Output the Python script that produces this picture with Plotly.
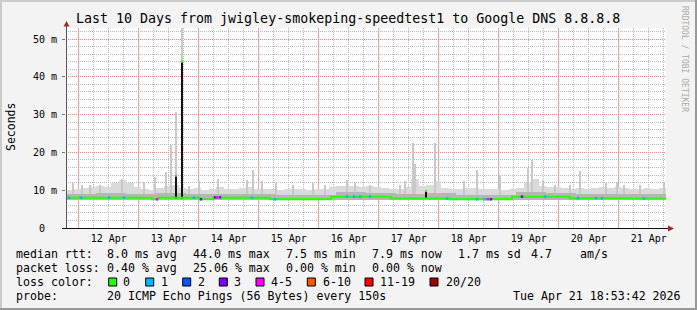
import numpy as np
import pandas as pd
import plotly.graph_objects as go

# ---------------- data ----------------
START = pd.Timestamp("2026-04-11 18:53:42")
END = pd.Timestamp("2026-04-21 18:53:42")

# median RTT (ms) as a step function: breakpoints in hours since START
median_hours = [0, 34.4, 36.8, 53.6, 58.8, 64.4, 81.6, 106.0, 130.0, 153.6, 178.4, 201.6, 225.6, 240]
median_ms = [8.0, 7.6, 8.0, 7.6, 8.1, 8.0, 7.6, 8.3, 7.8, 7.6, 8.3, 7.9, 7.8, 7.8]

# light smoke: upper edge per 3-hour bin (ms)
smoke_bin_hours = 3
smoke_top = [10.0, 10.3, 10.5, 10.8, 11.0, 10.8, 11.8, 12.8, 12.0, 10.8,
             10.3, 10.0, 10.5, 11.0, 11.5, 10.5, 10.3, 10.5, 10.0, 10.3,
             10.8, 10.3, 10.3, 10.5, 10.8, 10.3, 10.2, 10.3, 10.0, 10.3,
             10.2, 10.2, 10.0, 10.3, 10.2, 10.8, 11.0, 11.2, 11.0, 10.8,
             11.2, 10.8, 10.5, 10.2, 10.3, 10.8, 13.0, 11.0, 11.5, 12.5,
             10.5, 10.2, 10.3, 10.5, 10.5, 10.3, 10.2, 10.3, 10.0, 10.3,
             10.5, 12.0, 13.0, 11.0, 10.8, 10.8, 10.5, 10.3, 10.5, 10.3,
             10.5, 10.8, 10.5, 10.8, 10.5, 10.3, 10.2, 10.5, 10.3, 10.5]
smoke_floor = 7.3

# dense smoke near the median: upper edge per 12-hour bin (ms)
dense_bin_hours = 12
dense_top = [9.0, 9.3, 9.0, 9.2, 8.9, 9.0, 9.0, 8.7, 8.8, 9.4,
             9.3, 9.0, 9.2, 8.7, 8.8, 9.4, 9.2, 9.0, 9.0, 8.9]

# isolated smoke spikes (hours since START, top in ms)
spike_hours = [2.8, 6.4, 9.6, 13.6, 22.4, 31.2, 35.6, 40.0, 42.0, 44.0,
               46.4, 49.2, 53.2, 60.8, 72.4, 74.8, 78.4, 84.0, 90.8, 98.8,
               103.6, 112.4, 115.6, 121.6, 133.6, 135.6, 138.8, 139.6, 147.6, 159.2,
               164.4, 173.6, 184.8, 186.4, 190.8, 195.6, 201.6, 205.6, 216.0, 220.4,
               223.2, 229.6, 239.2]
spike_ms = [12.0, 11.5, 11.3, 11.4, 13.0, 12.2, 13.6, 14.7, 22.0, 30.8,
            53.0, 11.0, 12.4, 12.9, 12.7, 15.4, 12.5, 12.0, 11.5, 12.0,
            11.5, 12.7, 11.8, 11.5, 11.5, 12.4, 22.4, 17.0, 22.6, 12.4,
            15.3, 14.0, 15.8, 18.0, 12.7, 11.4, 11.5, 15.1, 11.8, 12.3,
            11.4, 11.3, 11.8]

# dense (black) smoke columns with median spikes
black_hours = [44.0, 46.4, 144.0]
black_ms = [13.8, 44.0, 9.8]

# samples with packet loss (hours since START)
loss1_hours = [1.2, 6.0, 17.2, 23.2, 51.2, 74.4, 83.6, 112.4, 115.2, 117.6,
               121.6, 152.4, 164.4, 167.6, 191.6, 204.8, 212.0, 214.4, 231.2]
loss3_hours = [54.0, 59.6, 61.6, 170.0, 182.4]
loss45_hours = [36.4, 60.4, 168.8]

day_labels = ["12 Apr", "13 Apr", "14 Apr", "15 Apr", "16 Apr",
              "17 Apr", "18 Apr", "19 Apr", "20 Apr", "21 Apr"]
y_ticks = [0, 10, 20, 30, 40, 50]
y_ticktext = ["0\u00a0\u00a0", "10 m", "20 m", "30 m", "40 m", "50 m"]

loss_names = ["0", "1", "2", "3", "4-5", "6-10", "11-19", "20/20"]
loss_colors = ["#26ff00", "#00b8ff", "#0059ff", "#7e00ff", "#ff00ff", "#ff5500", "#ff0000", "#a10000"]

title = "Last 10 Days from jwigley-smokeping-speedtest1 to Google DNS 8.8.8.8"

# ---------------- helpers ----------------
H = pd.Timedelta(hours=1)
HMS = 3600 * 1000
MONO = "DejaVu Sans Mono"
L, R, T, B = 66, 666, 28, 228
W, HT = 697, 310


def px(x):
    return (x - L) / (R - L)


def py(y):
    return (B - y) / (B - T)


def t(h):
    return [START + v * H for v in h]


def median_at(hours):
    idx = np.searchsorted(median_hours, hours, side="right") - 1
    return [median_ms[i] for i in idx]


fig = go.Figure()

# light smoke bins
sx = [START + (i + 0.5) * smoke_bin_hours * H for i in range(len(smoke_top))]
fig.add_trace(go.Bar(x=sx, y=[v - smoke_floor for v in smoke_top], base=smoke_floor,
                     width=smoke_bin_hours * HMS, marker=dict(color="#dadada", line=dict(width=0)),
                     hoverinfo="skip"))
# spikes
fig.add_trace(go.Bar(x=t(spike_hours), y=[v - smoke_floor for v in spike_ms], base=smoke_floor,
                     width=0.4 * HMS, marker=dict(color="#c8c8c8", line=dict(width=0)),
                     hoverinfo="skip"))
# dense smoke
dx = [START + (i + 0.5) * dense_bin_hours * H for i in range(len(dense_top))]
fig.add_trace(go.Bar(x=dx, y=[v - smoke_floor for v in dense_top], base=smoke_floor,
                     width=dense_bin_hours * HMS, marker=dict(color="#b6b6b6", line=dict(width=0)),
                     hoverinfo="skip"))
# black columns
fig.add_trace(go.Bar(x=t(black_hours), y=[v - 7.8 for v in black_ms], base=7.8,
                     width=0.9 * HMS, marker=dict(color="#111111", line=dict(width=0)),
                     hoverinfo="skip"))
# median line
fig.add_trace(go.Scatter(x=t(median_hours), y=median_ms, mode="lines",
                         line=dict(color=loss_colors[0], width=2, shape="hv"), hoverinfo="skip"))
# median spike caps
fig.add_trace(go.Scatter(x=t(black_hours), y=black_ms, mode="markers",
                         marker=dict(symbol="square", size=2, color=loss_colors[0]), hoverinfo="skip"))
# loss marks
for hrs, col in [(loss1_hours, loss_colors[1]), (loss3_hours, loss_colors[3]), (loss45_hours, loss_colors[4])]:
    fig.add_trace(go.Scatter(x=t(hrs), y=median_at(hrs), mode="markers",
                             marker=dict(symbol="square", size=2.5, color=col, line=dict(width=0)),
                             hoverinfo="skip"))

day0 = START.normalize()
midnights = [day0 + pd.Timedelta(days=d + 1) for d in range(len(day_labels))]
noons = [m + pd.Timedelta(hours=12) for m in midnights]

shapes = []
for m in midnights:
    shapes.append(dict(type="line", xref="x", yref="paper", x0=m, x1=m, y0=0, y1=1,
                       line=dict(color="#ff8080", width=1, dash="1px,1px"), layer="below"))

# axis lines and arrows
shapes.append(dict(type="line", xref="paper", yref="paper", x0=px(66.5), x1=px(66.5), y0=py(229), y1=py(24),
                   line=dict(color="#555555", width=1)))
shapes.append(dict(type="line", xref="paper", yref="paper", x0=px(62), x1=px(669), y0=py(228.5), y1=py(228.5),
                   line=dict(color="#111111", width=1)))
shapes.append(dict(type="path", xref="paper", yref="paper",
                   path=f"M {px(63.5)} {py(26.5)} L {px(69.5)} {py(26.5)} L {px(66.5)} {py(21)} Z",
                   fillcolor="#a02828", line=dict(width=0)))
shapes.append(dict(type="path", xref="paper", yref="paper",
                   path=f"M {px(668)} {py(225.5)} L {px(668)} {py(231.5)} L {px(674)} {py(228.5)} Z",
                   fillcolor="#a02828", line=dict(width=0)))
# frame
shapes.append(dict(type="line", xref="paper", yref="paper", x0=px(0), x1=px(697), y0=py(1), y1=py(1),
                   line=dict(color="#cbcbcb", width=2)))
shapes.append(dict(type="line", xref="paper", yref="paper", x0=px(1), x1=px(1), y0=py(0), y1=py(310),
                   line=dict(color="#cbcbcb", width=2)))
shapes.append(dict(type="line", xref="paper", yref="paper", x0=px(0), x1=px(697), y0=py(309), y1=py(309),
                   line=dict(color="#999999", width=2)))
shapes.append(dict(type="line", xref="paper", yref="paper", x0=px(696), x1=px(696), y0=py(0), y1=py(310),
                   line=dict(color="#999999", width=2)))

ann = []


def text(x, y, s, size=11.6, color="#000000", anchor="left", angle=0):
    ann.append(dict(x=px(x), y=py(y), xref="paper", yref="paper", text=s, showarrow=False,
                    xanchor=anchor, yanchor="middle", textangle=angle,
                    font=dict(family=MONO, size=size, color=color), borderpad=0))


text(347.5, 18.5, title, size=13.3, anchor="center")
text(11, 127, "Seconds", size=11.5, anchor="center", angle=-90)
text(685, 59, "RRDTOOL / TOBI OETIKER", size=8, color="#aaaaaa", anchor="center", angle=90)

rows = [
    (254, [("median rtt:", 16), ("8.0 ms avg", 107.3), ("44.0 ms max", 192.7), ("7.5 ms min", 286),
           ("7.9 ms now", 372.3), ("1.7 ms sd", 458), ("4.7", 531), ("am/s", 580)]),
    (268, [("packet loss:", 16), ("0.40 % avg", 107.3), ("25.06 % max", 192.7), ("0.00 % min", 286),
           ("0.00 % now", 372.3)]),
    (282, [("loss color:", 16)]),
    (296, [("probe:", 16), ("20 ICMP Echo Pings (56 Bytes) every 150s", 107.3),
           ("Tue Apr 21 18:53:42 2026", 513.3)]),
]
for yy, items in rows:
    for s, xx in items:
        text(xx - 1, yy, s)

box_x = [108.7, 145.7, 182.7, 219.3, 256, 307.3, 365, 430]
lab_x = [123.3, 160.7, 197.7, 234.3, 271, 322.7, 380, 445.7]
for name, col, bx, lx in zip(loss_names, loss_colors, box_x, lab_x):
    shapes.append(dict(type="rect", xref="paper", yref="paper", x0=px(bx), x1=px(bx + 8),
                       y0=py(286), y1=py(278), fillcolor=col, line=dict(color="#000000", width=1)))
    text(lx - 1, 282, name)

fig.update_layout(
    width=W, height=HT,
    margin=dict(l=L, r=W - R, t=T, b=HT - B, pad=0),
    paper_bgcolor="#f3f3f3", plot_bgcolor="#ffffff",
    showlegend=False, barmode="overlay", bargap=0,
    shapes=shapes, annotations=ann,
    font=dict(family=MONO, color="#000000"),
)
fig.update_xaxes(
    range=[START, END], type="date",
    tickvals=noons, ticktext=day_labels, tickfont=dict(family=MONO, size=10, color="#000000"),
    ticks="", showgrid=False, zeroline=False, showline=False, ticklabelstandoff=3,
    minor=dict(dtick=6 * HMS, tick0=day0, showgrid=True, gridcolor="#b8b8b8", griddash="1px,1px", gridwidth=1),
)
fig.update_yaxes(
    range=[0, 200 / 3.78], tickvals=y_ticks, ticktext=y_ticktext,
    tickfont=dict(family=MONO, size=10, color="#000000"),
    showgrid=True, gridcolor="#ff8080", griddash="1px,1px", gridwidth=1,
    zeroline=False, showline=False, ticks="outside", ticklen=3, tickcolor="#777777",
    ticklabelstandoff=3,
    minor=dict(dtick=2, showgrid=True, gridcolor="#b8b8b8", griddash="1px,1px", gridwidth=1),
)

fig.write_html("out.html")
